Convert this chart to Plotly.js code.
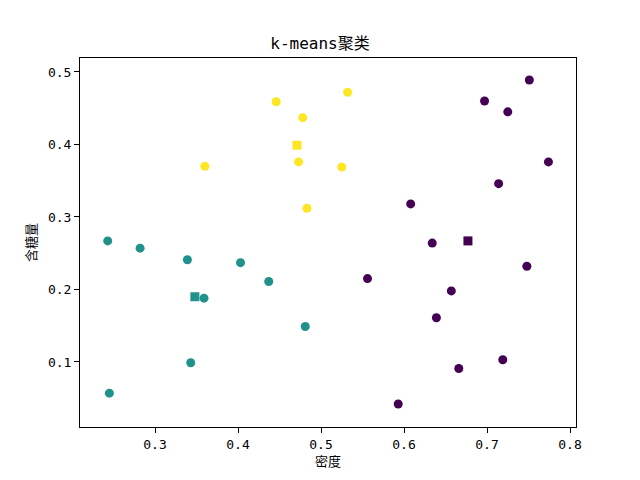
<!DOCTYPE html>
<html><head><meta charset="utf-8">
<script src="https://cdn.plot.ly/plotly-3.0.1.min.js"></script>
<style>body{margin:0;background:#fff}#c{width:640px;height:480px}</style>
</head><body><div id="c"></div>
<script>
// cluster 0 (purple)
const c0x = [0.697,0.774,0.634,0.608,0.556,0.666,0.639,0.657,0.593,0.719,0.748,0.714,0.751,0.725];
const c0y = [0.460,0.376,0.264,0.318,0.215,0.091,0.161,0.198,0.042,0.103,0.232,0.346,0.489,0.445];
// cluster 1 (teal)
const c1x = [0.403,0.481,0.437,0.243,0.245,0.343,0.359,0.339,0.282];
const c1y = [0.237,0.149,0.211,0.267,0.057,0.099,0.188,0.241,0.257];
// cluster 2 (yellow)
const c2x = [0.360,0.483,0.478,0.525,0.532,0.473,0.446];
const c2y = [0.370,0.312,0.437,0.369,0.472,0.376,0.459];
// centroids
const cenX = [0.677,0.348,0.471];
const cenY = [0.267,0.190,0.399];
const colors = ['#440154','#21918c','#fde725'];
const xTicks = [0.3,0.4,0.5,0.6,0.7,0.8];
const yTicks = [0.1,0.2,0.3,0.4,0.5];

const traces = [
  {x:c0x,y:c0y,mode:'markers',type:'scatter',marker:{color:colors[0],size:9,symbol:'circle'}},
  {x:c1x,y:c1y,mode:'markers',type:'scatter',marker:{color:colors[1],size:9,symbol:'circle'}},
  {x:c2x,y:c2y,mode:'markers',type:'scatter',marker:{color:colors[2],size:9,symbol:'circle'}},
  {x:cenX,y:cenY,mode:'markers',type:'scatter',marker:{color:colors,size:9,symbol:'square'}}
];
const F = '"DejaVu Sans Mono","Noto Sans CJK SC",monospace';
const axisCommon = {showgrid:false,zeroline:false,showline:true,mirror:true,linecolor:'#000',linewidth:1,
  ticks:'outside',ticklen:5,tickwidth:1,tickcolor:'#000',tickfont:{family:F,size:13,color:'#000'}};
const layout = {
  width:640,height:480,showlegend:false,
  paper_bgcolor:'#fff',plot_bgcolor:'#fff',
  margin:{l:80,r:64,t:58,b:53},
  font:{family:F,color:'#000'},
  title:{text:'k-means聚类',font:{family:F,size:16,color:'#000'},x:0.5,xanchor:'center',y:0.909,yanchor:'middle'},
  xaxis:Object.assign({},axisCommon,{range:[0.2096,0.8072],tickvals:xTicks,ticktext:xTicks.map(v=>v.toFixed(1)),
    title:{text:'密度',font:{family:F,size:13,color:'#000'},standoff:6}}),
  yaxis:Object.assign({},axisCommon,{range:[0.0103,0.5193],tickvals:yTicks,ticktext:yTicks.map(v=>v.toFixed(1)),
    title:{text:'含糖量',font:{family:F,size:13,color:'#000'},standoff:8}})
};
Plotly.newPlot('c',traces,layout,{displayModeBar:false,staticPlot:true});
</script></body></html>
